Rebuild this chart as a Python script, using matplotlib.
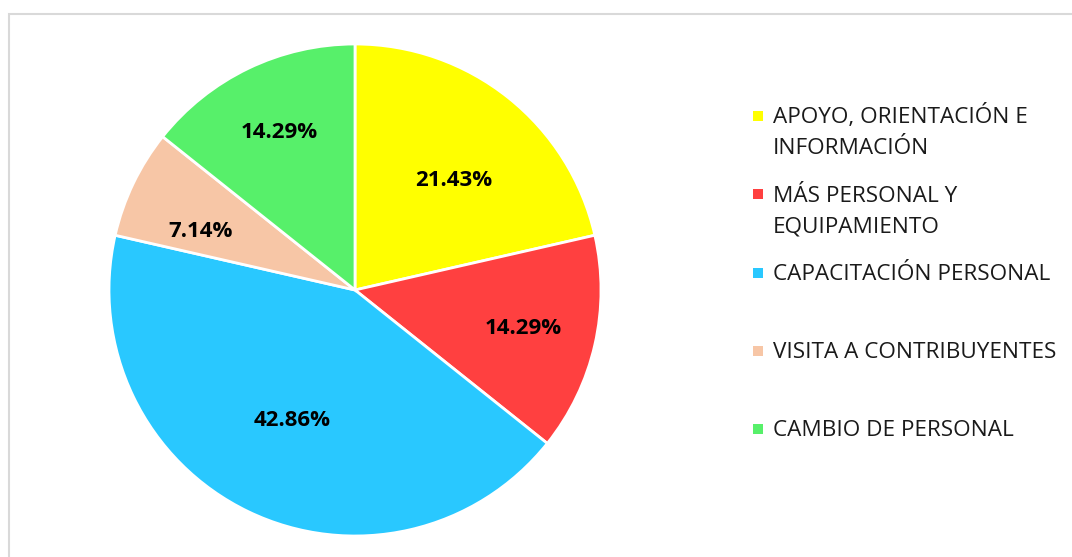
import numpy as np
import matplotlib.pyplot as plt
from matplotlib.patches import Rectangle

categorias = ["APOYO, ORIENTACIÓN E\nINFORMACIÓN",
              "MÁS PERSONAL Y\nEQUIPAMIENTO",
              "CAPACITACIÓN PERSONAL",
              "VISITA A CONTRIBUYENTES",
              "CAMBIO DE PERSONAL"]
porcentajes = [21.43, 14.29, 42.86, 7.14, 14.29]
colores = ["#FFFF00", "#FF4040", "#29C8FF", "#F7C6A6", "#57F06A"]
# posición de etiquetas (distancia radial, desvío angular) estilo "ajuste óptimo"
dist_etiqueta = [0.60, 0.70, 0.59, 0.67, 0.71]
desvio_ang = [-3.5, 0, 0, 5.0, 0]

plt.rcParams['font.family'] = ['Open Sans', 'DejaVu Sans']

fig = plt.figure(figsize=(10.72, 5.57), dpi=100)
W, H = 1072, 557
# borde gris del área del gráfico
fig.patches.append(Rectangle((8.5 / W, -0.1), 1.2, (557 - 13.5) / H + 0.1,
                             transform=fig.transFigure, fill=False,
                             edgecolor="#D9D9D9", linewidth=1.5))

cx, cy, r = 355, 290, 246
ax = fig.add_axes([(cx - r) / W, (H - cy - r) / H, 2 * r / W, 2 * r / H])
wedges, _ = ax.pie(porcentajes, colors=colores, startangle=90, counterclock=False,
                   wedgeprops=dict(edgecolor="white", linewidth=2))
ax.set_xlim(-1, 1)
ax.set_ylim(-1, 1)
ax.set_aspect("equal")
ax.axis("off")

for w, p, d, da in zip(wedges, porcentajes, dist_etiqueta, desvio_ang):
    ang = np.deg2rad((w.theta1 + w.theta2) / 2 + da)
    ax.text(d * np.cos(ang), d * np.sin(ang), f"{p:.2f}%", ha="center", va="center",
            fontsize=16, fontweight="bold", color="black")

# leyenda
y_leg = [116, 194, 273, 351, 429]
for cat, col, y in zip(categorias, colores, y_leg):
    fig.patches.append(Rectangle((753 / W, 1 - (y + 5) / H), 10 / W, 10 / H,
                                 transform=fig.transFigure, facecolor=col, edgecolor="none"))
    for i, linea in enumerate(cat.split("\n")):
        yb = y + 7.5 + i * 31
        fig.text(773 / W, 1 - yb / H, linea, ha="left", va="baseline", fontsize=16.2,
                 color="#1A1A1A")

fig.savefig("out.png", dpi=100)
